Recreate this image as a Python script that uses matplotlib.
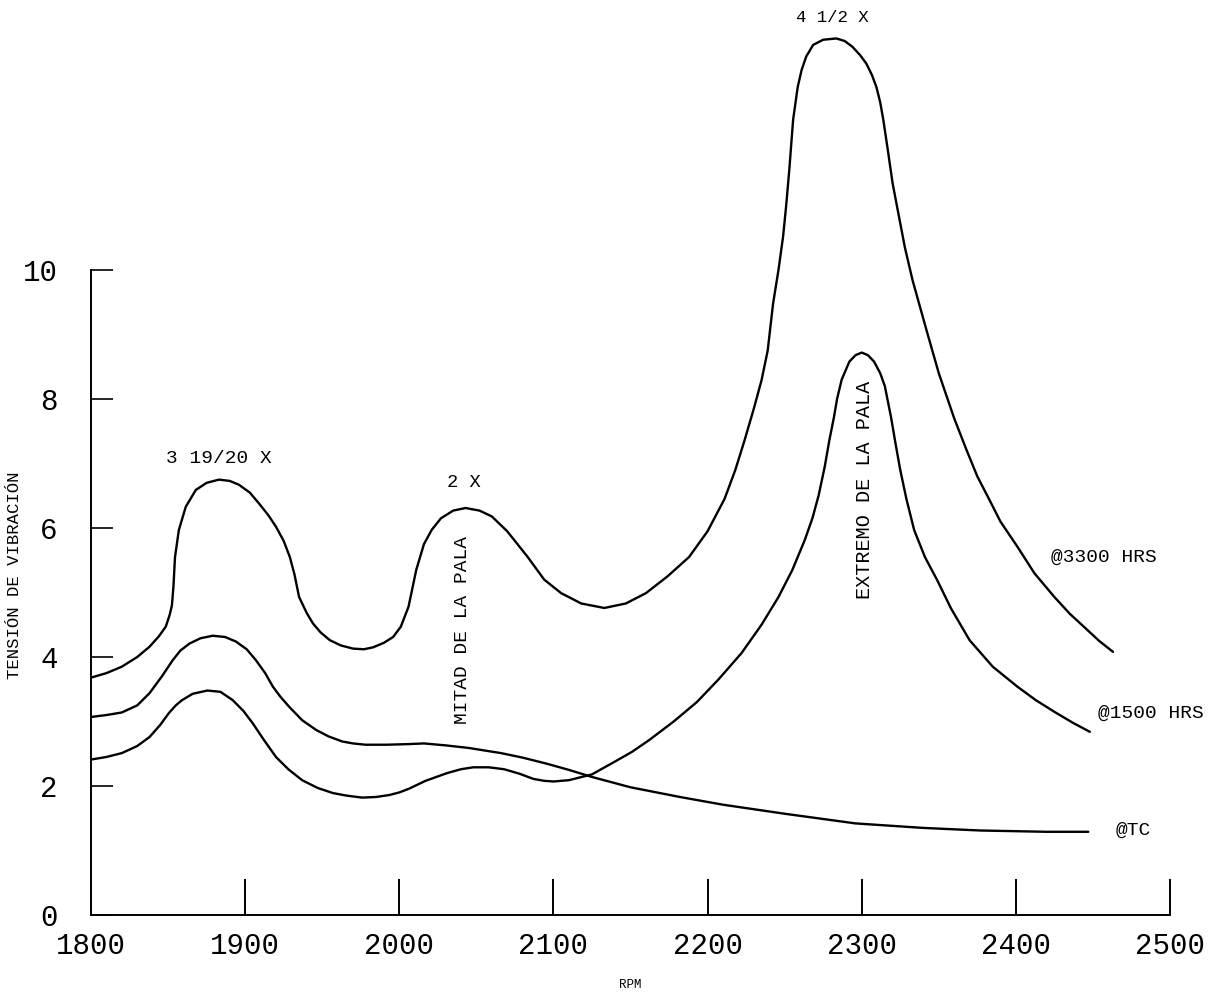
import matplotlib
matplotlib.use('Agg')
import matplotlib.pyplot as plt

plt.rcParams['font.family'] = ['Liberation Mono', 'DejaVu Sans Mono']

# curva @3300 HRS
rpm_3300 = [1800, 1810, 1820, 1830, 1838, 1844, 1848.5, 1851, 1852.5, 1853.5, 1854.5, 1857,
            1861.5, 1868, 1875, 1883, 1890, 1896, 1903, 1909, 1915, 1920, 1925, 1929, 1932,
            1935, 1940, 1944, 1949, 1955, 1962, 1970, 1977, 1983, 1990, 1996, 2001, 2006,
            2011, 2016, 2021, 2027, 2035, 2043, 2052, 2060, 2070, 2083, 2094, 2105, 2118,
            2133, 2147, 2160, 2174, 2188, 2200, 2211, 2218, 2224, 2230, 2235, 2239, 2242.5,
            2246, 2249, 2251, 2253, 2255.5, 2258.5, 2261, 2264, 2268.5, 2275, 2283.5, 2289,
            2294, 2299, 2303, 2306.5, 2309.5, 2312, 2314, 2317, 2320, 2324, 2328, 2333,
            2342, 2350, 2360, 2368, 2375, 2383, 2390, 2401, 2412, 2425, 2435, 2445, 2454,
            2463]
val_3300 = [3.68, 3.75, 3.85, 4.00, 4.16, 4.32, 4.47, 4.65, 4.80, 5.10, 5.55, 5.97,
            6.33, 6.59, 6.70, 6.75, 6.73, 6.67, 6.55, 6.38, 6.20, 6.02, 5.80, 5.55, 5.28,
            4.93, 4.68, 4.52, 4.38, 4.26, 4.18, 4.13, 4.12, 4.15, 4.22, 4.31, 4.47, 4.78,
            5.35, 5.75, 5.97, 6.15, 6.27, 6.31, 6.27, 6.18, 5.95, 5.56, 5.20, 4.99, 4.83,
            4.76, 4.83, 4.99, 5.25, 5.55, 5.95, 6.45, 6.90, 7.36, 7.85, 8.29, 8.75, 9.48,
            10.0, 10.52, 11.0, 11.55, 12.33, 12.84, 13.10, 13.31, 13.49, 13.57, 13.59, 13.55,
            13.46, 13.33, 13.20, 13.03, 12.84, 12.60, 12.33, 11.85, 11.35, 10.85, 10.35, 9.84,
            9.07, 8.40, 7.70, 7.21, 6.80, 6.43, 6.10, 5.71, 5.30, 4.93, 4.67, 4.45, 4.25,
            4.08]

# curva @1500 HRS
rpm_1500 = [1800, 1810, 1820, 1830, 1838, 1845, 1850.5, 1855, 1859, 1866, 1875.5, 1884,
            1892, 1899, 1905, 1912, 1920, 1928, 1937, 1947, 1957, 1966, 1976, 1985, 1993.5,
            2000, 2006.5, 2017, 2031, 2040, 2048, 2058, 2068, 2078, 2087, 2094, 2100, 2110,
            2125, 2140, 2151, 2162, 2178, 2193, 2207, 2222, 2235, 2246, 2255, 2263, 2268,
            2272, 2276, 2279, 2282, 2284, 2287, 2292, 2296, 2300, 2304, 2308, 2312, 2315,
            2319, 2322, 2325, 2329, 2334, 2341, 2349, 2358, 2370, 2385, 2401, 2413, 2425,
            2437, 2448]
val_1500 = [2.41, 2.45, 2.51, 2.62, 2.76, 2.95, 3.13, 3.25, 3.33, 3.43, 3.48, 3.46,
            3.33, 3.16, 2.97, 2.72, 2.45, 2.26, 2.09, 1.97, 1.89, 1.85, 1.82, 1.83, 1.86,
            1.90, 1.96, 2.08, 2.20, 2.26, 2.29, 2.29, 2.26, 2.19, 2.11, 2.08, 2.07, 2.09,
            2.18, 2.38, 2.53, 2.71, 3.00, 3.30, 3.65, 4.06, 4.50, 4.93, 5.35, 5.81, 6.15,
            6.50, 6.95, 7.36, 7.72, 8.00, 8.30, 8.58, 8.68, 8.72, 8.68, 8.58, 8.40, 8.20,
            7.72, 7.30, 6.90, 6.45, 5.97, 5.55, 5.19, 4.75, 4.26, 3.85, 3.54, 3.33, 3.15,
            2.98, 2.84]

# curva @TC
rpm_tc = [1800, 1810, 1820, 1830, 1838, 1846, 1853, 1858, 1864, 1871, 1879, 1887, 1894,
          1901, 1907, 1913, 1918, 1923, 1928.5, 1937, 1946, 1954, 1963, 1970, 1978, 1992,
          2006.5, 2016, 2030, 2045, 2066, 2080, 2095, 2110, 2125, 2150, 2182, 2210, 2250,
          2296, 2340, 2377, 2420, 2447]
val_tc = [3.07, 3.10, 3.14, 3.25, 3.44, 3.70, 3.95, 4.10, 4.21, 4.29, 4.33, 4.31, 4.24,
          4.12, 3.95, 3.75, 3.54, 3.38, 3.23, 3.02, 2.87, 2.77, 2.69, 2.66, 2.64, 2.64,
          2.65, 2.66, 2.63, 2.59, 2.51, 2.44, 2.35, 2.25, 2.14, 1.98, 1.83, 1.71, 1.57,
          1.42, 1.35, 1.31, 1.29, 1.29]

x_ticks = [1800, 1900, 2000, 2100, 2200, 2300, 2400, 2500]
y_ticks = [0, 2, 4, 6, 8, 10]

fig = plt.figure(figsize=(12.27, 9.96), dpi=100)
ax = fig.add_axes([91 / 1227, 81 / 996, (1170 - 91) / 1227, 915 / 996])

for xs, ys in [(rpm_3300, val_3300), (rpm_1500, val_1500), (rpm_tc, val_tc)]:
    ax.plot(xs, ys, color='black', lw=1.7, solid_joinstyle='round', solid_capstyle='round')

ax.set_xlim(1800, 2500)
ax.set_ylim(0, 915 / 64.5)

ax.spines['top'].set_visible(False)
ax.spines['right'].set_visible(False)
ax.spines['left'].set_bounds(0, 10)
ax.spines['left'].set_linewidth(1.4)
ax.spines['bottom'].set_linewidth(1.4)

ax.set_xticks(x_ticks)
ax.set_yticks(y_ticks)
ax.tick_params(axis='x', direction='in', length=26, width=1.4, pad=12, labelsize=21)
ax.tick_params(axis='y', direction='in', length=16, width=1.2, pad=24, labelsize=21)

# anotaciones
ax.text(1883, 7.08, '3 19/20 X', ha='center', va='center', fontsize=14)
ax.text(2042, 6.70, '2 X', ha='center', va='center', fontsize=13.5)
ax.text(2281, 13.92, '4 1/2 X', ha='center', va='center', fontsize=12.5)
ax.text(2041, 4.42, 'MITAD DE LA PALA', ha='center', va='center', rotation=90, fontsize=14)
ax.text(2302, 6.59, 'EXTREMO DE LA PALA', ha='center', va='center', rotation=90, fontsize=14.5)
ax.text(2423, 5.55, '@3300 HRS', ha='left', va='center', fontsize=14)
ax.text(2453, 3.12, '@1500 HRS', ha='left', va='center', fontsize=14)
ax.text(2465, 1.32, '@TC', ha='left', va='center', fontsize=14)

fig.text(15 / 1227, 1 - 575 / 996, 'TENSIÓN DE VIBRACIÓN', rotation=90,
         ha='center', va='center', fontsize=12.4)
fig.text(630 / 1227, 1 - 985 / 996, 'RPM', ha='center', va='center', fontsize=9)

fig.savefig('out.png', dpi=100)
